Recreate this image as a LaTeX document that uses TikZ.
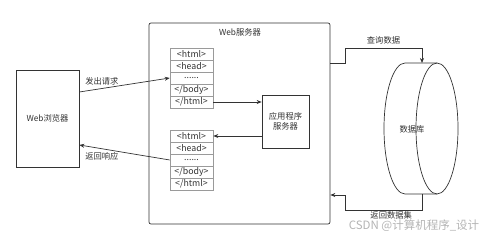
\documentclass[tikz,border=0pt]{standalone}
\usepackage{fontspec}
\setmainfont{Noto Sans CJK SC}
\usetikzlibrary{arrows.meta}
\definecolor{lineink}{HTML}{333333}
\definecolor{cellink}{HTML}{9A9A9A}
\definecolor{markgray}{HTML}{B4B4B4}
\newcommand{\celldots}{......}

\begin{document}
\begin{tikzpicture}[x=1pt, y=-1pt, every node/.style={font=\fontsize{8.3}{10}\selectfont, text=lineink},
  plainbox/.style={draw=lineink, line width=0.7pt},
  cell/.style={draw=cellink, line width=0.6pt, minimum width=43pt, minimum height=12pt, inner sep=0pt, font=\fontsize{8.8}{10}\selectfont},
  dbradius/.style={x radius=21, y radius=65.5},
  flow/.style={draw=lineink, line width=0.7pt, -{Stealth[length=5pt, width=4pt]}}]

  \useasboundingbox (0,0) rectangle (498,232);

  % browser and server frame
  \node[plainbox, minimum width=63pt, minimum height=97pt] (browser) at (47.5,118.5) {Web浏览器};
  \node[plainbox, rounded corners=2pt, minimum width=181pt, minimum height=201pt] (server) at (239.5,123.5) {};
  \node (servername) at (240,32) {Web服务器};

  % page templates
  \foreach \t [count=\i] in {<html>,<head>,\celldots,</body>,</html>}{
    \node[cell] (req\i) at (191.5,42+12*\i) {\t};
    \node[cell] (res\i) at (191.5,124+12*\i) {\t};
  }

  \node[plainbox, minimum width=47pt, minimum height=53pt, align=center] (appserver) at (285.5,121.5) {应用程序\\服务器};

  % database cylinder
  \draw[lineink, line width=0.7pt, dbradius] (437,128.5) ellipse[];
  \draw[lineink, line width=0.7pt] (437,63) -- (405,63) arc[start angle=270, end angle=90, dbradius] -- (437,194);
  \node (database) at (412,129) {数据库};
  \coordinate (dbtop) at (422,63);
  \coordinate (dbbottom) at (422,194);

  % request / response
  \draw[flow] (browser.east |- 0,92) -- node[above, pos=0.25] {发出请求} (req3.west);
  \draw[flow] (res3.west) -- node[below, pos=0.75] {返回响应} (browser.east |- 0,145);
  \draw[flow] (req5.east) -- (appserver.west |- req5.east);
  \draw[flow] (appserver.west |- res1.east) -- (res1.east);

  % database access
  \draw[flow] (server.east |- 0,63) -- (345,63) -- (345,48) -- node[above] {查询数据} (dbtop |- 0,48) -- (dbtop);
  \draw[flow] (dbbottom) -- (422,210) -- node[below, pos=0.4, inner sep=1.5pt] {返回数据集} (345,210) -- (345,195) -- (server.east |- 0,195);

  \node[text=markgray, font=\fontsize{11.5}{13}\selectfont, inner sep=0pt, anchor=north] (watermark) at (414,219.5) {CSDN @计算机程序\_设计};

\end{tikzpicture}
\end{document}
